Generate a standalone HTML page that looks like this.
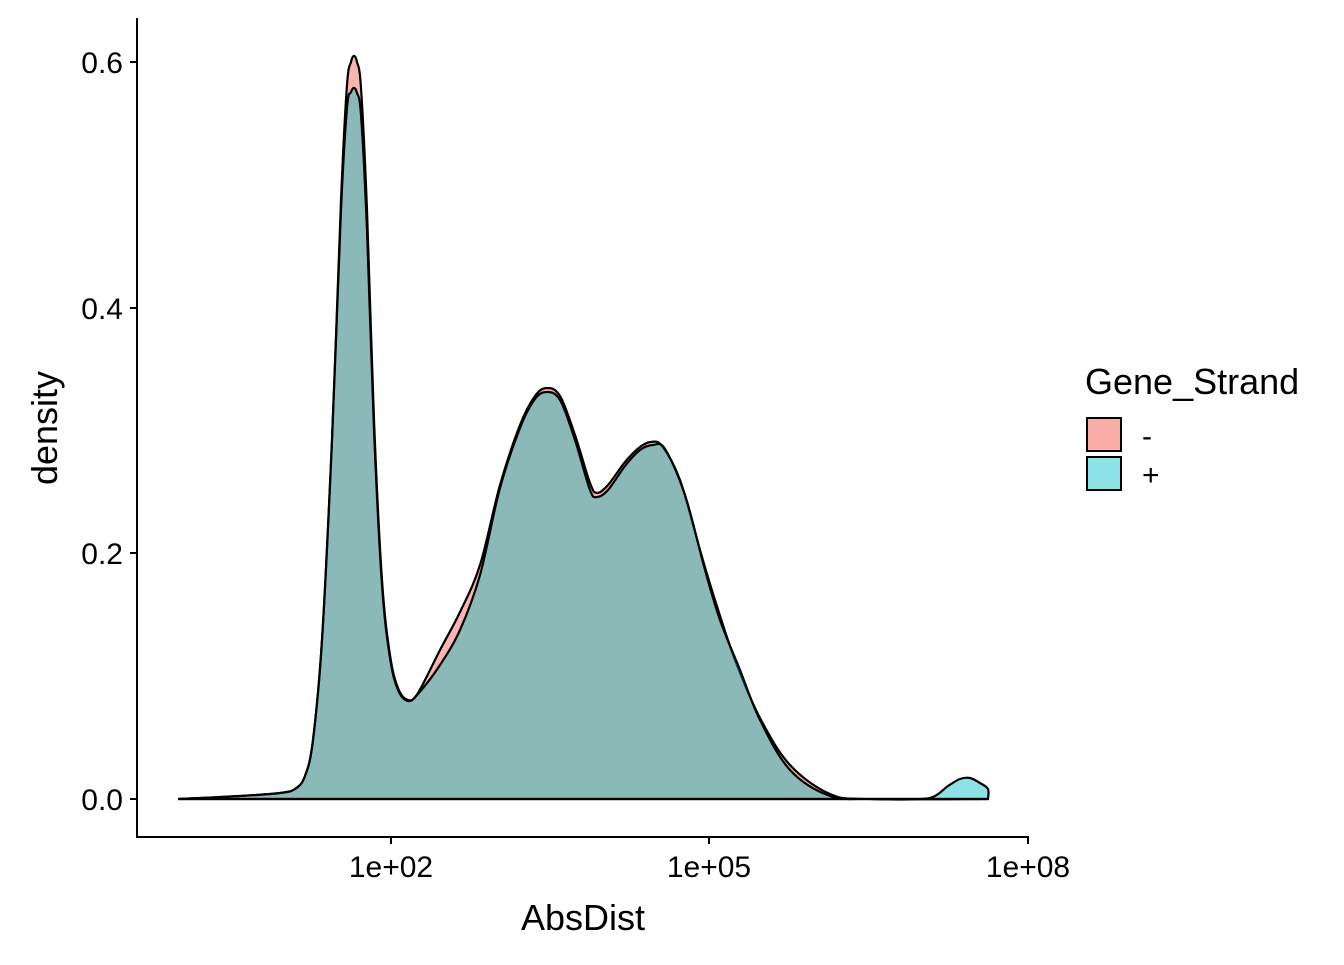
<!DOCTYPE html>
<html><head><meta charset="utf-8"><style>
body{margin:0;background:#fff;}
svg text{font-family:"Liberation Sans",Arial,sans-serif;fill:#000;}
</style></head><body>
<svg id="s" width="1344" height="960" xmlns="http://www.w3.org/2000/svg">
<g id="plot"></g>
<line x1="137" y1="18" x2="137" y2="838" stroke="#000" stroke-width="2"/>
<line x1="136" y1="837" x2="1029" y2="837" stroke="#000" stroke-width="2"/>
<g stroke="#000" stroke-width="2">
<line x1="130" y1="799" x2="137" y2="799"/><line x1="130" y1="553" x2="137" y2="553"/>
<line x1="130" y1="308" x2="137" y2="308"/><line x1="130" y1="62" x2="137" y2="62"/>
<line x1="391" y1="837" x2="391" y2="844"/><line x1="709" y1="837" x2="709" y2="844"/><line x1="1028" y1="837" x2="1028" y2="844"/>
</g>
<g font-size="30" text-anchor="end">
<text x="123" y="810">0.0</text><text x="123" y="564">0.2</text>
<text x="123" y="319">0.4</text><text x="123" y="73">0.6</text>
</g>
<g font-size="30" text-anchor="middle">
<text x="391" y="877">1e+02</text><text x="709" y="877">1e+05</text><text x="1028" y="877">1e+08</text>
</g>
<text x="583" y="930" font-size="36" text-anchor="middle">AbsDist</text>
<text transform="translate(57,428) rotate(-90)" font-size="36" text-anchor="middle">density</text>
<text x="1085" y="394" font-size="36">Gene_Strand</text>
<rect x="1087" y="418" width="34" height="33" fill="#F8766D" fill-opacity="0.6" stroke="#000" stroke-width="2"/>
<rect x="1087" y="457" width="34" height="33" fill="#00BFC4" fill-opacity="0.45" stroke="#000" stroke-width="2"/>
<text x="1142" y="446" font-size="30">-</text>
<text x="1142" y="485" font-size="30">+</text>
</svg>
<script>
function path(pts){
 let d="M"+pts[0][0]+","+pts[0][1];
 for(let i=0;i<pts.length-1;i++){
  const p0=pts[Math.max(0,i-1)],p1=pts[i],p2=pts[i+1],p3=pts[Math.min(pts.length-1,i+2)];
  const c1=[p1[0]+(p2[0]-p0[0])/6,p1[1]+(p2[1]-p0[1])/6];
  const c2=[p2[0]-(p3[0]-p1[0])/6,p2[1]-(p3[1]-p1[1])/6];
  d+=` C${c1[0].toFixed(1)},${c1[1].toFixed(1)} ${c2[0].toFixed(1)},${c2[1].toFixed(1)} ${p2[0]},${p2[1]}`;
 }
 return d;
}
const pink=[[178,799],[240,796],[280,793],[295,789],[305,776],[313,740],[322,640],[332,440],[341,200],[347,85],[351,62],[354,56],[357,62],[361,88],[367,210],[374,420],[382,580],[390,655],[398,688],[408,700],[418,693],[440,650],[460,612],[480,565],[500,485],[520,425],[535,396],[547,388],[560,396],[575,435],[590,483],[597,493],[608,485],[625,462],[640,447],[651,442],[662,446],[680,480],[700,550],[715,600],[735,660],[760,718],[790,765],[830,794],[870,799],[988,799]];
const teal=[[178,799],[240,796],[280,793],[295,789],[305,776],[313,740],[322,640],[332,440],[341,210],[347,108],[351,92],[354,88],[357,93],[361,115],[367,230],[374,430],[382,585],[390,658],[398,690],[408,701],[418,694],[440,665],[460,630],[480,575],[500,488],[520,428],[535,399],[547,392],[560,400],[575,440],[590,490],[597,497],[608,490],[625,466],[640,450],[653,445],[665,449],[685,495],[705,570],[720,620],[740,670],[760,720],[790,770],[830,796],[870,799],[920,799],[935,796],[948,786],[960,779],[970,778],[980,783],[988,789],[988,799]];
const g=document.getElementById("plot");
function add(pts,fill,op){
 const p=document.createElementNS("http://www.w3.org/2000/svg","path");
 p.setAttribute("d",path(pts)+" Z");
 p.setAttribute("fill",fill);p.setAttribute("fill-opacity",op);
 p.setAttribute("stroke","#000");p.setAttribute("stroke-width","2.2");
 g.appendChild(p);
}
add(pink,"#F8766D","0.55");
add(teal,"#00BFC4","0.45");
</script>
</body></html>
